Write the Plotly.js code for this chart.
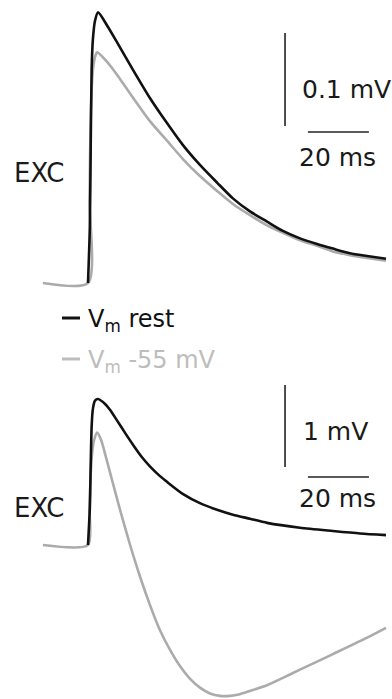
<!DOCTYPE html>
<html>
<head>
<meta charset="utf-8">
<script src="https://cdn.plot.ly/plotly-3.0.1.min.js"></script>
<style>
  html, body { margin: 0; padding: 0; background: #fff; }
  #chart { width: 392px; height: 699px; }
</style>
</head>
<body>
<div id="chart"></div>
<script>
// EXC responses, time in ms after stimulus onset, membrane potential change in mV

// Top panel (small EPSP)
const topRestT = [0, 0.6, 0.9, 1.2, 1.6, 2.3, 3.3, 6.6, 9.5, 14.8, 20.3, 25.9, 31.2, 36.7, 42.3, 47.5, 53.1, 58.7, 63.9, 69.5, 75.1, 80.3, 85.9, 91.5, 97.7];
const topRestV = [0, 0.060, 0.150, 0.230, 0.262, 0.282, 0.291, 0.275, 0.259, 0.229, 0.199, 0.172, 0.148, 0.127, 0.108, 0.091, 0.077, 0.066, 0.056, 0.048, 0.042, 0.037, 0.032, 0.029, 0.026];
const topDepT  = [-14.8, 0, 0.5, 0.8, 1.2, 1.6, 2.3, 3.0, 6.2, 9.5, 14.8, 20.3, 25.9, 31.2, 36.7, 42.3, 47.5, 53.1, 58.7, 63.9, 69.5, 75.1, 80.3, 85.9, 91.5, 97.7];
const topDepV  = [0, 0, 0.089, 0.165, 0.208, 0.229, 0.243, 0.248, 0.238, 0.224, 0.199, 0.174, 0.153, 0.133, 0.115, 0.099, 0.085, 0.073, 0.062, 0.054, 0.046, 0.040, 0.034, 0.030, 0.027, 0.024];

// Bottom panel (large EPSP)
const botRestT = [0, 0.6, 0.9, 1.2, 1.6, 2.3, 3.3, 5.6, 7.2, 9.5, 12.1, 14.8, 17.7, 20.3, 23.6, 25.9, 31.2, 36.7, 42.3, 47.5, 53.1, 58.7, 69.5, 80.3, 89.2, 97.7];
const botRestV = [0, 0.45, 1.00, 1.45, 1.66, 1.76, 1.78, 1.72, 1.65, 1.52, 1.37, 1.22, 1.07, 0.96, 0.84, 0.77, 0.62, 0.51, 0.43, 0.37, 0.32, 0.27, 0.21, 0.17, 0.14, 0.12];
const botDepT  = [-14.8, 0, 0.5, 0.8, 1.3, 2.0, 3.0, 4.3, 5.9, 7.9, 10.5, 13.8, 17.1, 20.3, 23.6, 26.9, 30.2, 33.4, 36.7, 40.0, 43.3, 46.6, 49.8, 53.1, 58.7, 63.9, 69.5, 80.3, 91.5, 97.7];
const botDepV  = [0, 0, 0.43, 0.79, 1.10, 1.28, 1.37, 1.28, 1.07, 0.79, 0.43, 0.00, -0.39, -0.73, -1.04, -1.28, -1.48, -1.63, -1.74, -1.81, -1.84, -1.84, -1.82, -1.78, -1.71, -1.62, -1.52, -1.33, -1.13, -1.01];

// Scale bars: [time start, time end] and [mV start, mV end]
const topBarT = [72.1, 92.1], topBarTy = 0.1624;
const topBarV = [0.1688, 0.2688], topBarVx = 64.6;
const botBarT = [72.1, 92.1], botBarTy = 0.829;
const botBarV = [0.951, 1.951], botBarVx = 64.6;

const REST = '#111111';
const DEP  = '#ababab';
const W = 392, H = 699;
const px = x => x / W;
const py = y => 1 - y / H;

const lineStyle = color => ({ color, width: 2.6, shape: 'spline', smoothing: 0.7 });

const traces = [
  { x: topDepT,  y: topDepV,  xaxis: 'x',  yaxis: 'y',  mode: 'lines', line: lineStyle(DEP) },
  { x: topRestT, y: topRestV, xaxis: 'x',  yaxis: 'y',  mode: 'lines', line: lineStyle(REST) },
  { x: botDepT,  y: botDepV,  xaxis: 'x2', yaxis: 'y2', mode: 'lines', line: lineStyle(DEP) },
  { x: botRestT, y: botRestV, xaxis: 'x2', yaxis: 'y2', mode: 'lines', line: lineStyle(REST) }
];

const hidden = { visible: false, fixedrange: true };
const FONT = 'DejaVu Sans, sans-serif';

const bar = (xref, yref, x0, x1, y0, y1) => ({
  type: 'line', xref, yref, x0, x1, y0, y1,
  line: { color: '#222', width: 1.6 }
});

const txt = (text, x, y, opts) => {
  opts = opts || {};
  return {
    text, x: px(x), y: py(y), xref: 'paper', yref: 'paper',
    xanchor: opts.anchor || 'left', yanchor: 'middle', showarrow: false,
    font: { family: FONT, size: opts.size || 25, color: opts.color || '#1a1a1a' }
  };
};

const layout = {
  width: W, height: H,
  margin: { l: 0, r: 0, t: 0, b: 0 },
  paper_bgcolor: '#fff', plot_bgcolor: '#fff',
  showlegend: false,
  xaxis:  Object.assign({ domain: [0, 1], range: [-28.85, 99.67], anchor: 'y' }, hidden),
  yaxis:  Object.assign({ domain: [1 - 300 / H, 1], range: [-0.01828, 0.3043], anchor: 'x' }, hidden),
  xaxis2: Object.assign({ domain: [0, 1], range: [-28.85, 99.67], anchor: 'y2' }, hidden),
  yaxis2: Object.assign({ domain: [0, 319 / H], range: [-1.878, 2.012], anchor: 'x2' }, hidden),
  shapes: [
    bar('x', 'y', topBarVx, topBarVx, topBarV[0], topBarV[1]),
    bar('x', 'y', topBarT[0], topBarT[1], topBarTy, topBarTy),
    bar('x2', 'y2', botBarVx, botBarVx, botBarV[0], botBarV[1]),
    bar('x2', 'y2', botBarT[0], botBarT[1], botBarTy, botBarTy),
    // legend keys
    { type: 'line', xref: 'paper', yref: 'paper', x0: px(62), x1: px(80), y0: py(318), y1: py(318), line: { color: REST, width: 3 } },
    { type: 'line', xref: 'paper', yref: 'paper', x0: px(62), x1: px(80), y0: py(359), y1: py(359), line: { color: '#bdbdbd', width: 3 } }
  ],
  annotations: [
    txt('0.1 mV', 300, 90),
    txt('20 ms', 337, 157, { anchor: 'center' }),
    txt('EXC', 12, 173, { size: 26 }),
    txt('1 mV', 301, 431),
    txt('20 ms', 337, 498, { anchor: 'center' }),
    txt('EXC', 12, 508, { size: 26 }),
    txt('V<sub>m</sub> rest', 86, 321, { size: 24, color: '#111' }),
    txt('V<sub>m</sub> -55 mV', 86, 361, { size: 24, color: '#bdbdbd' })
  ]
};

Plotly.newPlot('chart', traces, layout, { staticPlot: true, displayModeBar: false });
</script>
</body>
</html>
